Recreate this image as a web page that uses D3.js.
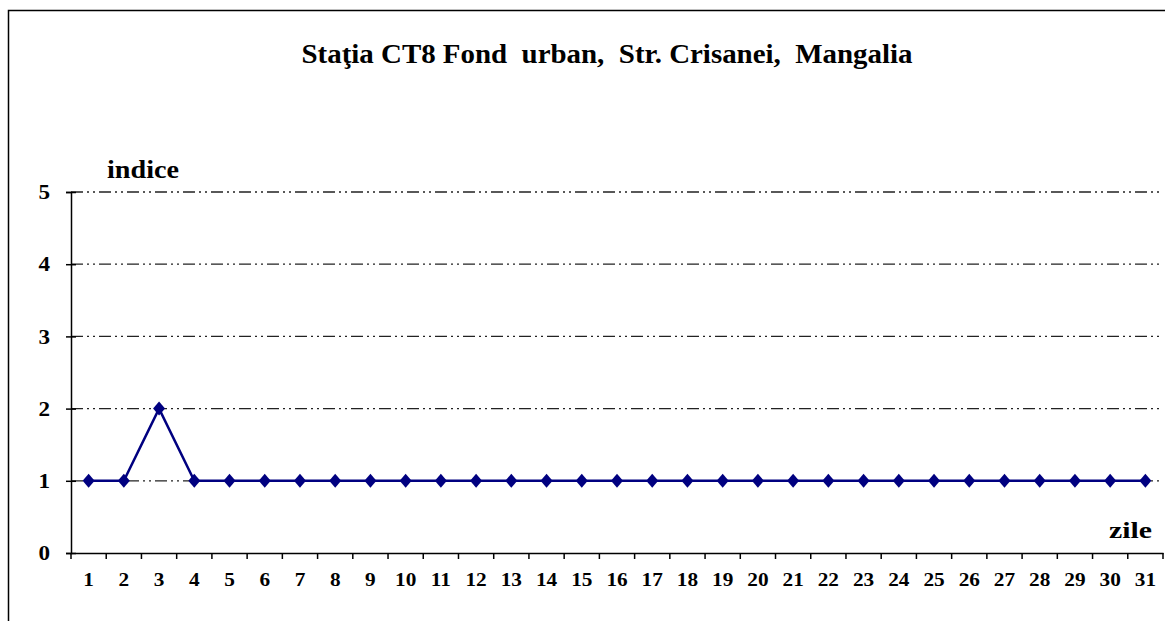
<!DOCTYPE html>
<html>
<head>
<meta charset="utf-8">
<script src="https://cdn.jsdelivr.net/npm/d3@7"></script>
<style>
body { margin: 0; background: #fff; }
text { font-family: "Liberation Serif", "Times New Roman", serif; font-weight: bold; fill: #000; }
</style>
</head>
<body>
<script>
// data
var days = d3.range(1, 32);
var indice = [1, 1, 2, 1, 1, 1, 1, 1, 1, 1, 1, 1, 1, 1, 1, 1, 1, 1, 1, 1, 1, 1, 1, 1, 1, 1, 1, 1, 1, 1, 1];
var yTicks = [0, 1, 2, 3, 4, 5];
var title = "Staţia CT8 Fond  urban,  Str. Crisanei,  Mangalia";

var W = 1165, H = 621;
var margin = {top: 192, right: 2, bottom: 68, left: 71};

var svg = d3.select("body").append("svg")
  .attr("width", W)
  .attr("height", H);

// stretch text horizontally by factor k
function stretch(sel, k) {
  sel.each(function() {
    var len = this.getComputedTextLength();
    d3.select(this).attr("textLength", len * k).attr("lengthAdjust", "spacingAndGlyphs");
  });
}

// outer frame
svg.append("rect")
  .attr("x", 8.5).attr("y", 10.5)
  .attr("width", W + 20).attr("height", H + 20)
  .attr("fill", "none").attr("stroke", "#000").attr("stroke-width", 1.5);

var x = d3.scaleBand().domain(days).range([margin.left, W - margin.right]);
var y = d3.scaleLinear().domain([0, 5]).range([H - margin.bottom, margin.top]);

// gridlines
svg.append("g").selectAll("line")
  .data(yTicks.filter(function(d) { return d > 0; }))
  .enter().append("line")
  .attr("x1", margin.left).attr("x2", W - margin.right)
  .attr("y1", function(d) { return y(d); })
  .attr("y2", function(d) { return y(d); })
  .attr("stroke", "#222").attr("stroke-width", 1.3)
  .attr("stroke-dasharray", "12,4,2,4,2,4");

// y axis
var yAxis = svg.append("g")
  .attr("transform", "translate(" + margin.left + ",0)")
  .call(d3.axisLeft(y).tickValues(yTicks).tickSize(5).tickPadding(16).tickFormat(d3.format("d")));
yAxis.select(".domain").attr("stroke", "#000").attr("stroke-width", 1.5);
yAxis.selectAll(".tick line").attr("stroke", "#000").attr("stroke-width", 1.5).attr("x2", 5).attr("x1", -5);
yAxis.selectAll("text").style("font-size", "21px").style("font-family", "Liberation Serif").style("font-weight", "bold");
stretch(yAxis.selectAll("text"), 1.1);

// x axis with ticks at band boundaries
var xAxis = svg.append("g")
  .attr("transform", "translate(0," + y(0) + ")")
  .call(d3.axisBottom(x).tickSize(0).tickPadding(20));
xAxis.select(".domain").attr("stroke", "#000").attr("stroke-width", 1.5);
xAxis.selectAll("text").style("font-size", "18.5px").style("font-family", "Liberation Serif").style("font-weight", "bold");
stretch(xAxis.selectAll("text"), 1.15);
xAxis.selectAll(".bound").data(days.concat([32])).enter().append("line")
  .attr("class", "bound")
  .attr("x1", function(d) { return d <= 31 ? x(d) : x(31) + x.bandwidth(); })
  .attr("x2", function(d) { return d <= 31 ? x(d) : x(31) + x.bandwidth(); })
  .attr("y1", 0).attr("y2", 6)
  .attr("stroke", "#000").attr("stroke-width", 1.5);

// series line
var cx = function(d, i) { return x(days[i]) + x.bandwidth() / 2; };
var line = d3.line()
  .x(cx)
  .y(function(d) { return y(d); });
svg.append("path")
  .datum(indice)
  .attr("d", line)
  .attr("fill", "none")
  .attr("stroke", "#000080")
  .attr("stroke-width", 2.5);

// diamond markers
svg.append("g").selectAll("path")
  .data(indice)
  .enter().append("path")
  .attr("transform", function(d, i) { return "translate(" + cx(d, i) + "," + y(d) + ")"; })
  .attr("d", "M0,-7L6,0L0,7L-6,0Z")
  .attr("fill", "#000080");

// labels
svg.append("text")
  .attr("x", 607).attr("y", 63)
  .attr("text-anchor", "middle")
  .attr("textLength", 611).attr("lengthAdjust", "spacingAndGlyphs")
  .style("font-size", "27px")
  .style("white-space", "pre")
  .text(title);

svg.append("text")
  .attr("x", 107).attr("y", 178)
  .attr("textLength", 72).attr("lengthAdjust", "spacingAndGlyphs")
  .style("font-size", "25px")
  .text("indice");

svg.append("text")
  .attr("x", 1109).attr("y", 538)
  .attr("textLength", 43).attr("lengthAdjust", "spacingAndGlyphs")
  .style("font-size", "24px")
  .text("zile");
</script>
</body>
</html>
